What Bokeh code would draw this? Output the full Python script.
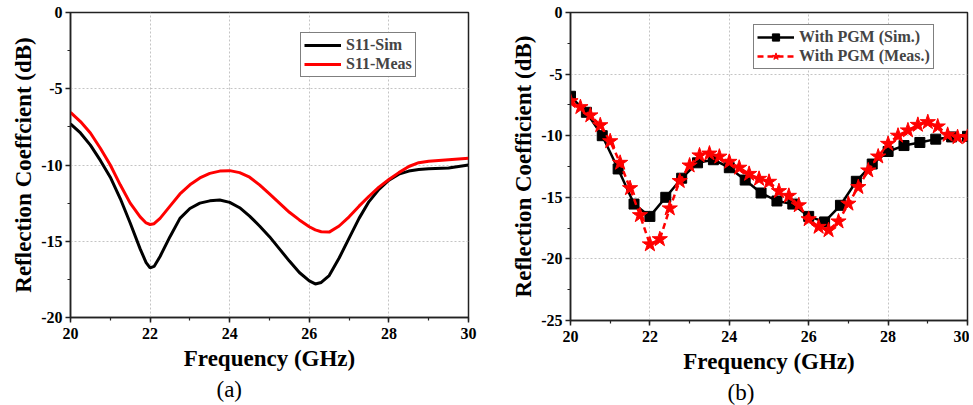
from bokeh.plotting import figure
from bokeh.models import SingleIntervalTicker, Range1d, Legend, LegendItem, Title, CustomJSTickFormatter
from bokeh.layouts import row
from bokeh.embed import file_html
from bokeh.resources import INLINE

# ---------------- data: panel (a) ----------------
freq_a = [20.0, 20.25, 20.5, 20.75, 21.0, 21.25, 21.5, 21.75, 21.9, 22.0, 22.1, 22.25,
          22.5, 22.75, 23.0, 23.25, 23.5, 23.75, 24.0, 24.25, 24.5, 24.75, 25.0, 25.25,
          25.5, 25.75, 26.0, 26.15, 26.3, 26.5, 26.75, 27.0, 27.25, 27.5, 27.75, 28.0,
          28.25, 28.5, 28.75, 29.0, 29.5, 30.0]
s11_sim = [-7.3, -7.9, -8.7, -9.7, -10.8, -12.2, -13.8, -15.5, -16.4, -16.75, -16.65, -16.0,
           -14.7, -13.5, -12.85, -12.5, -12.35, -12.3, -12.45, -12.8, -13.35, -14.0, -14.7, -15.5,
           -16.3, -17.05, -17.6, -17.8, -17.7, -17.25, -16.1, -14.8, -13.5, -12.4, -11.6, -11.0,
           -10.6, -10.4, -10.3, -10.25, -10.2, -10.0]
s11_meas = [-6.55, -7.15, -7.9, -8.9, -10.0, -11.3, -12.5, -13.4, -13.8, -13.9, -13.85, -13.5,
            -12.7, -11.9, -11.3, -10.85, -10.55, -10.4, -10.37, -10.5, -10.8, -11.3, -11.9, -12.5,
            -13.1, -13.6, -14.05, -14.25, -14.38, -14.4, -14.0, -13.4, -12.7, -12.05, -11.45, -10.95,
            -10.5, -10.1, -9.85, -9.75, -9.65, -9.55]

# ---------------- data: panel (b) ----------------
freq_b_sim = [20.0, 20.4, 20.8, 21.2, 21.6, 22.0, 22.4, 22.8, 23.2, 23.6, 24.0, 24.4, 24.8,
              25.2, 25.6, 26.0, 26.4, 26.8, 27.2, 27.6, 28.0, 28.4, 28.8, 29.2, 29.6, 30.0]
pgm_sim = [-6.8, -8.1, -10.0, -12.7, -15.55, -16.55, -15.0, -13.45, -12.2, -11.95, -12.6, -13.6, -14.65,
           -15.3, -15.55, -16.55, -17.0, -15.65, -13.7, -12.3, -11.28, -10.8, -10.55, -10.28, -10.1, -10.05]
freq_b_meas = [20.0, 20.25, 20.5, 20.75, 21.0, 21.25, 21.5, 21.75, 22.0, 22.25, 22.5, 22.75,
               23.0, 23.25, 23.5, 23.75, 24.0, 24.25, 24.5, 24.75, 25.0, 25.25, 25.5, 25.75,
               26.0, 26.25, 26.5, 26.75, 27.0, 27.25, 27.5, 27.75, 28.0, 28.25, 28.5, 28.75,
               29.0, 29.25, 29.5, 29.75, 30.0]
pgm_meas = [-7.2, -7.68, -8.35, -9.15, -10.45, -12.2, -14.26, -16.45, -18.82, -18.4, -15.9, -13.68,
            -12.42, -11.6, -11.45, -11.7, -12.12, -12.6, -13.1, -13.5, -13.74, -14.5, -14.88, -15.65,
            -16.78, -17.4, -17.67, -16.96, -15.52, -14.17, -12.82, -11.69, -10.66, -10.0, -9.57, -9.12,
            -8.9, -9.25, -9.93, -10.12, -10.1]

FONT = "Liberation Serif"
AXC = "#222222"


def make_fig(ylo, yhi, ytitle, fw, fh, mbl, mbr, caption, cap_off, ylab_standoff):
    p = figure(frame_width=fw, frame_height=fh, min_border_left=mbl, min_border_right=mbr,
               min_border_top=12, min_border_bottom=0,
               x_range=Range1d(20, 30), y_range=Range1d(ylo, yhi),
               output_backend="svg", toolbar_location=None)
    p.xaxis.ticker = SingleIntervalTicker(interval=2, num_minor_ticks=2)
    p.yaxis.ticker = SingleIntervalTicker(interval=5, num_minor_ticks=2)
    fmt = "return tick.toFixed(0);"
    p.xaxis.formatter = CustomJSTickFormatter(code=fmt)
    p.yaxis.formatter = CustomJSTickFormatter(code=fmt)
    for ax in (p.xaxis[0], p.yaxis[0]):
        ax.major_label_text_font = FONT
        ax.major_label_text_font_style = "bold"
        ax.major_label_text_font_size = "16px"
        ax.major_label_text_color = "black"
        ax.axis_label_text_font = FONT
        ax.axis_label_text_font_style = "bold"
        ax.axis_label_text_font_size = "23px"
        ax.axis_label_text_color = "black"
        ax.axis_line_color = AXC
        ax.axis_line_width = 1.5
        ax.major_tick_line_color = AXC
        ax.minor_tick_line_color = AXC
        ax.major_tick_line_width = 1.5
        ax.minor_tick_line_width = 1.2
        ax.major_tick_in = 0
        ax.major_tick_out = 5
        ax.minor_tick_in = 0
        ax.minor_tick_out = 3
        ax.major_label_standoff = 3
    p.xaxis.axis_label = "Frequency (GHz)"
    p.yaxis.axis_label = ytitle
    p.xaxis.axis_label_standoff = 4
    p.yaxis.axis_label_standoff = ylab_standoff
    p.xaxis.major_label_standoff = 5
    for g in (p.xgrid[0], p.ygrid[0]):
        g.grid_line_color = "#c4c4c4"
        g.grid_line_dash = "2 2"
        g.grid_line_width = 1
    p.outline_line_color = AXC
    p.outline_line_width = 1.5
    p.background_fill_color = "white"
    p.border_fill_color = "white"
    p.add_layout(Title(text=caption, align="left", offset=cap_off, standoff=3, text_font=FONT,
                       text_font_style="normal", text_font_size="23px", text_color="black"),
                 "below")
    return p


# ---------------- panel (a) ----------------
pa = make_fig(-20, 0, "Reflection Coeffcient (dB)", 398, 305, 70, 30, "(a)", 146, 2)
r_sim = pa.line(freq_a, s11_sim, line_color="black", line_width=3)
r_meas = pa.line(freq_a, s11_meas, line_color="#ff0000", line_width=3)
leg_a = Legend(items=[LegendItem(label="S11-Sim", renderers=[r_sim]),
                      LegendItem(label="S11-Meas", renderers=[r_meas])],
               location=(230, 240), padding=3, spacing=1, margin=0,
               label_height=18, glyph_height=18, glyph_width=37, label_standoff=5,
               label_text_font=FONT, label_text_font_style="bold", label_text_font_size="16px",
               border_line_color="black", border_line_width=1, background_fill_alpha=1)
pa.add_layout(leg_a)

# ---------------- panel (b) ----------------
pb = make_fig(-25, 0, "Reflection Coefficient (dB)", 397, 308, 72, 2, "(b)", 157, 2)
l_sim = pb.line(freq_b_sim, pgm_sim, line_color="black", line_width=2.5)
m_sim = pb.scatter(freq_b_sim, pgm_sim, marker="square", size=10, fill_color="black",
                   line_color="black")
l_meas = pb.line(freq_b_meas, pgm_meas, line_color="#ff0000", line_width=2.5, line_dash="6 4")
m_meas = pb.scatter(freq_b_meas, pgm_meas, marker="star", size=16, fill_color="#ff0000",
                    line_color="#ff0000")
leg_b = Legend(items=[LegendItem(label="With PGM (Sim.)", renderers=[l_sim, m_sim]),
                      LegendItem(label="With PGM (Meas.)", renderers=[l_meas, m_meas])],
               location=(183, 251), padding=3, spacing=1, margin=0,
               label_height=18, glyph_height=18, glyph_width=37, label_standoff=5,
               label_text_font=FONT, label_text_font_style="bold", label_text_font_size="16px",
               border_line_color="black", border_line_width=1, background_fill_alpha=1)
pb.add_layout(leg_b)

layout = row(pa, pb)
open("out.html", "w").write(file_html(layout, INLINE))
